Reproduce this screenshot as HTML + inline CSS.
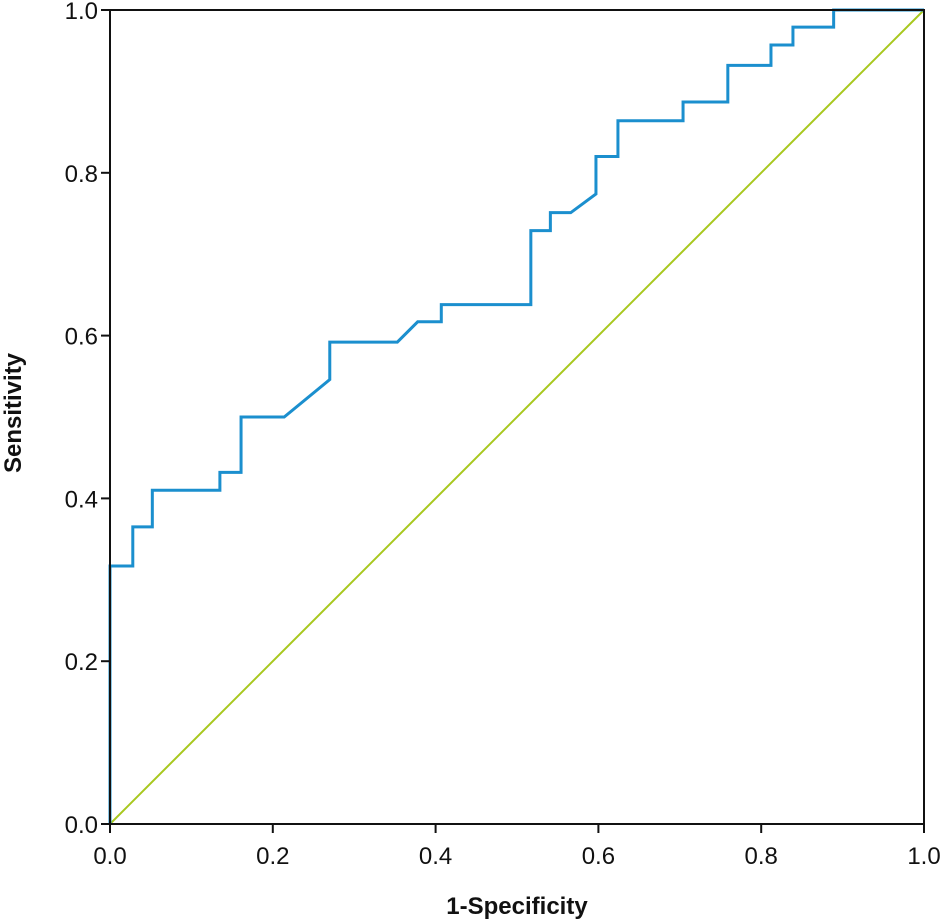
<!DOCTYPE html>
<html><head><meta charset="utf-8"><style>
html,body{margin:0;padding:0;background:#fff;width:942px;height:922px;overflow:hidden}
svg text{font-family:"Liberation Sans","DejaVu Sans",sans-serif;fill:#111}
</style></head><body>
<svg id="chart" width="942" height="922"></svg>
<script>
const fprValues=[0,0,0.028,0.028,0.052,0.052,0.135,0.135,0.161,0.161,0.214,0.270,0.270,0.353,0.378,0.378,0.407,0.407,0.517,0.517,0.541,0.541,0.566,0.597,0.597,0.624,0.624,0.704,0.704,0.759,0.759,0.812,0.812,0.839,0.839,0.889,0.889,1.0];
const tprValues=[0,0.317,0.317,0.365,0.365,0.41,0.41,0.432,0.432,0.5,0.5,0.546,0.592,0.592,0.617,0.617,0.617,0.638,0.638,0.729,0.729,0.751,0.751,0.774,0.82,0.82,0.864,0.864,0.887,0.887,0.932,0.932,0.957,0.957,0.979,0.979,1.0,1.0];
const xTicks=[0,0.2,0.4,0.6,0.8,1.0];
const yTicks=[0,0.2,0.4,0.6,0.8,1.0];
const xTickLabels=["0.0","0.2","0.4","0.6","0.8","1.0"];
const yTickLabels=["0.0","0.2","0.4","0.6","0.8","1.0"];

const svg=document.getElementById('chart');
const NS='http://www.w3.org/2000/svg';
const X0=110,X1=924,Y0=824,Y1=10;
const sx=v=>X0+v*(X1-X0), sy=v=>Y0-v*(Y0-Y1);
function mk(tag,attrs,parent){const e=document.createElementNS(NS,tag);for(const k in attrs)e.setAttribute(k,attrs[k]);(parent||svg).appendChild(e);return e;}

const diag=mk('line',{x1:sx(0),y1:sy(0),x2:sx(1),y2:sy(1),stroke:'#a8c81e','stroke-width':2});



const pts=fprValues.map((f,i)=>sx(f)+','+sy(tprValues[i])).join(' ');
const roc=mk('polyline',{points:pts,fill:'none',stroke:'#1b8fce','stroke-width':3,'stroke-linejoin':'miter'});



const frame=mk('rect',{x:X0,y:Y1,width:X1-X0,height:Y0-Y1,fill:'none',stroke:'#111','stroke-width':2});



xTicks.forEach((t,i)=>{
  const tk=mk('line',{x1:sx(t),y1:Y0,x2:sx(t),y2:Y0+9,stroke:'#111','stroke-width':2});
  
  
  const lb=mk('text',{x:sx(t),y:Y0+40,'text-anchor':'middle','font-size':24});
  lb.textContent=xTickLabels[i];
  
  
});
yTicks.forEach((t,i)=>{
  const tk=mk('line',{x1:X0-9,y1:sy(t),x2:X0,y2:sy(t),stroke:'#111','stroke-width':2});
  
  
  const lb=mk('text',{x:X0-12,y:sy(t)+9,'text-anchor':'end','font-size':24});
  lb.textContent=yTickLabels[i];
  
  
});

const xt=mk('text',{x:(X0+X1)/2,y:914,'text-anchor':'middle','font-size':24,'font-weight':'bold'});
xt.textContent='1-Specificity';


const yt=mk('text',{x:0,y:0,'text-anchor':'middle','font-size':24,'font-weight':'bold',transform:'translate(21,413) rotate(-90)'});
yt.textContent='Sensitivity';


</script>
</body></html>
